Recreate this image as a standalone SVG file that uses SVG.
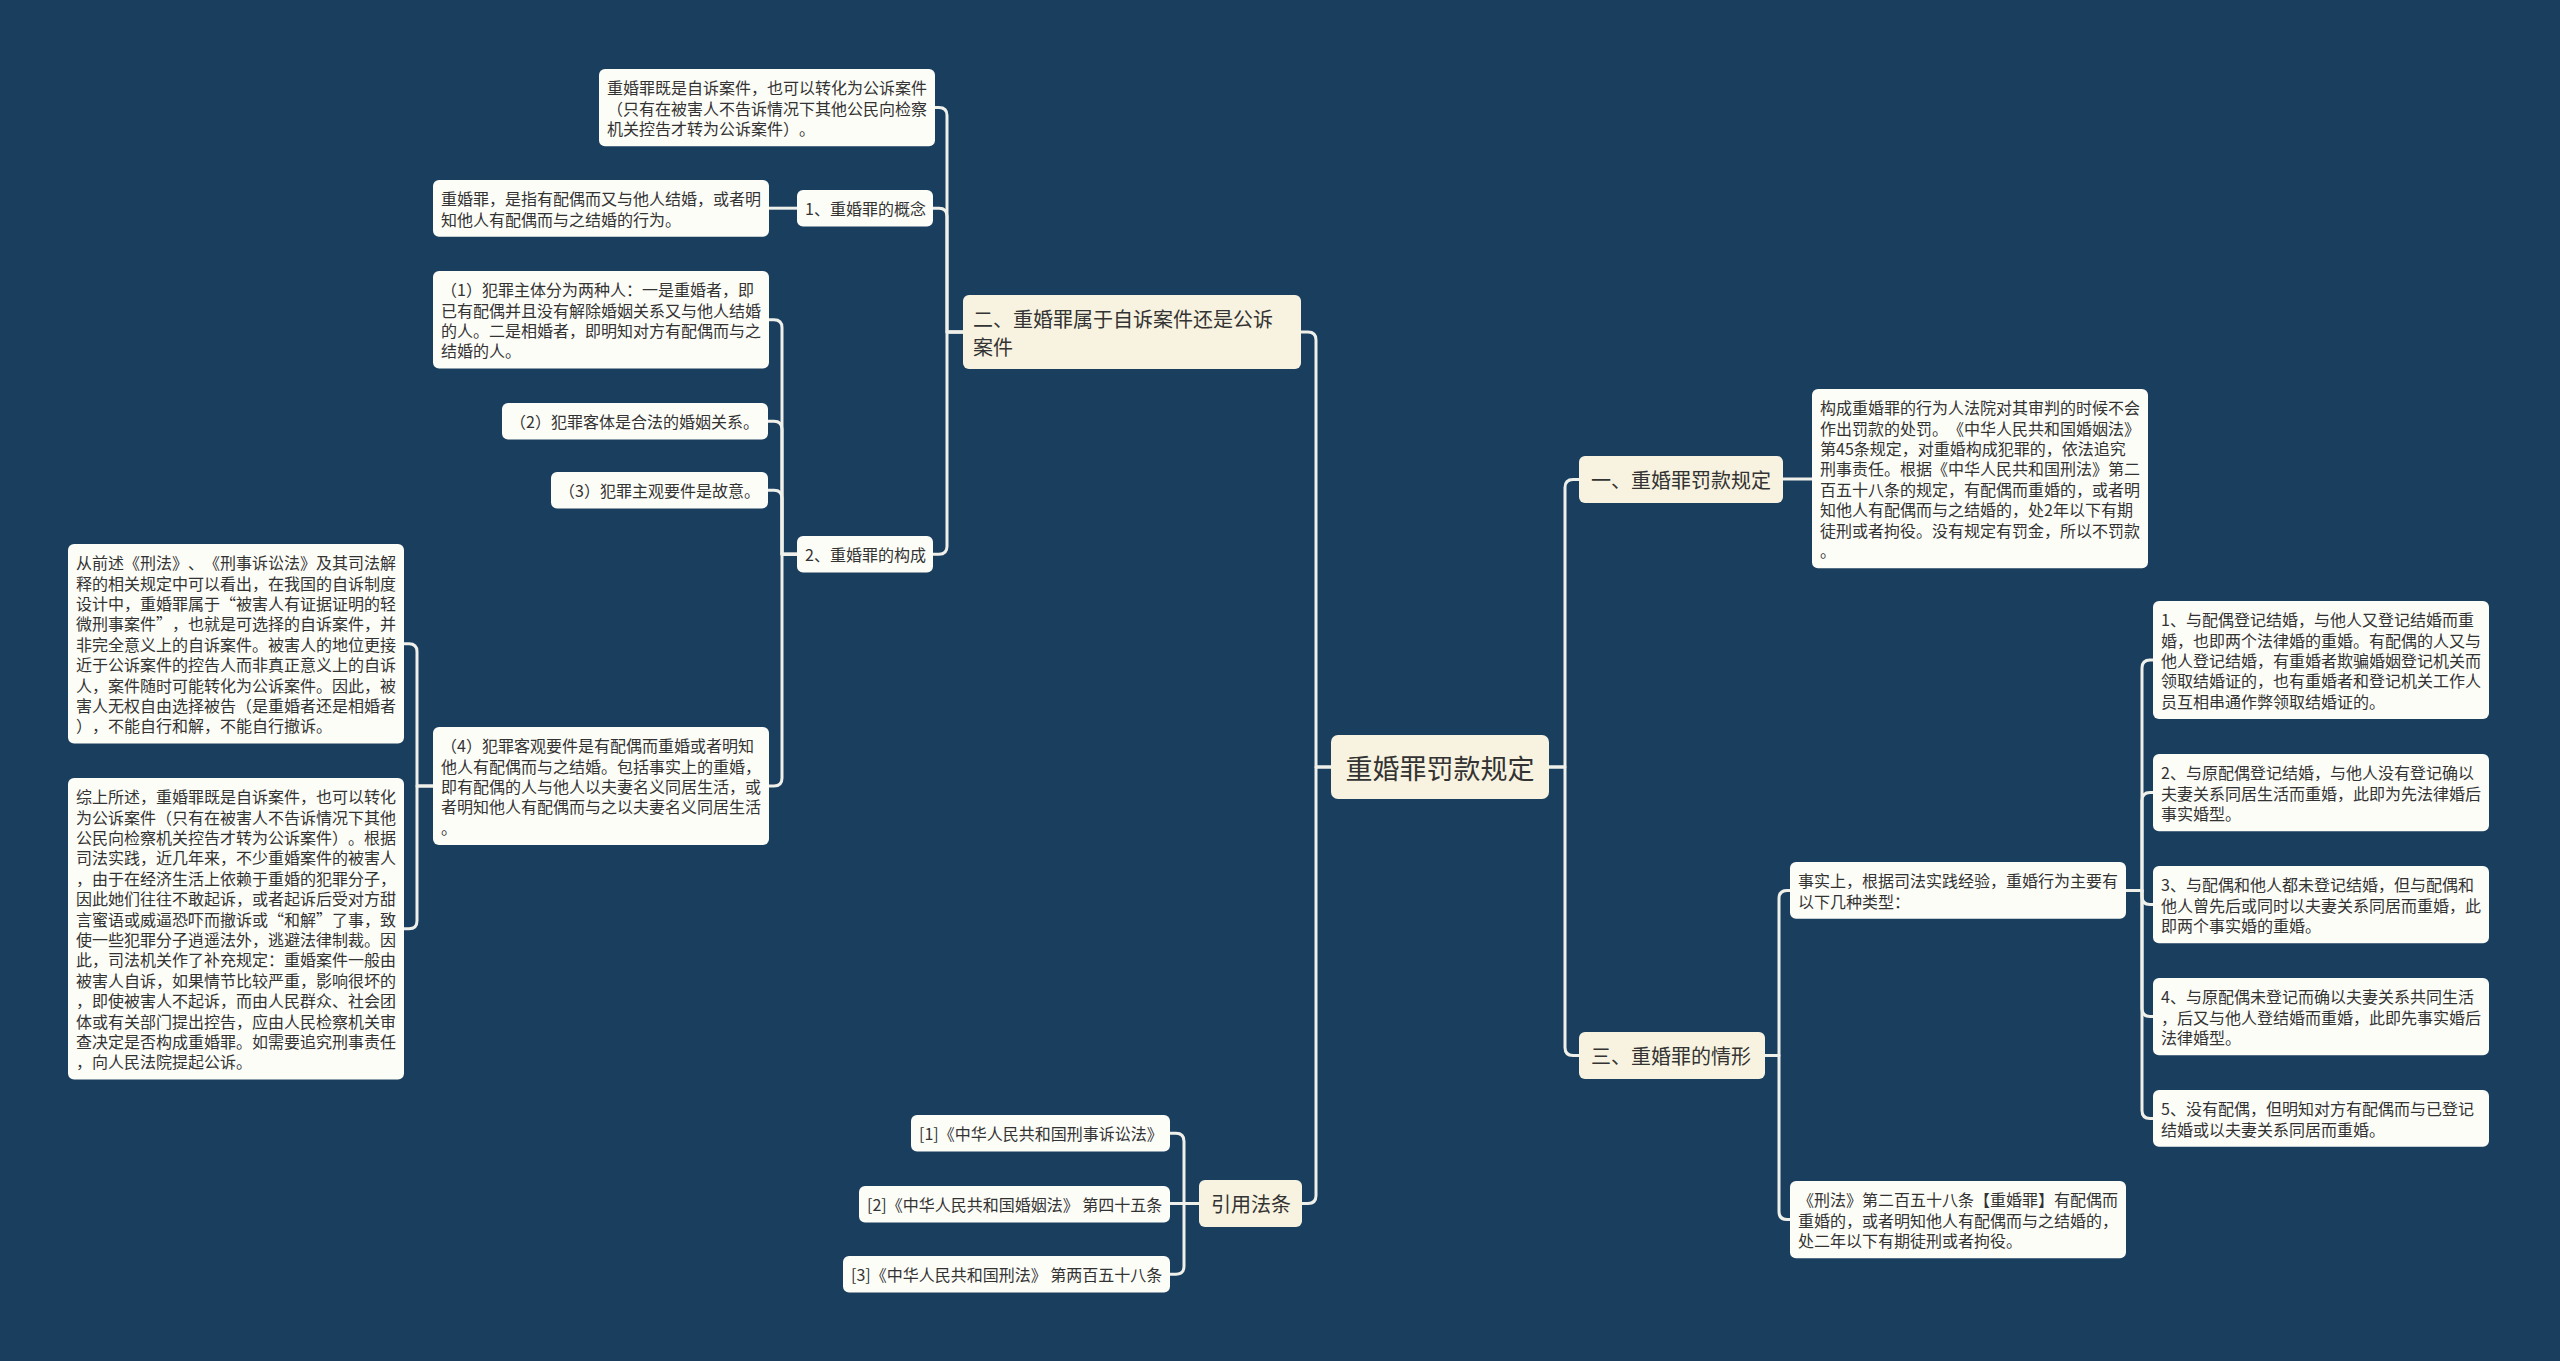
<svg xmlns="http://www.w3.org/2000/svg" width="2560" height="1361" viewBox="0 0 2560 1361">
<style>
.bg{fill:#1a3e5e}
.leaf{fill:#fdfdf8}
.main{fill:#f8f3e0}
text{font-family:"Noto Sans CJK SC","Noto Sans",sans-serif;fill:#333333;dominant-baseline:central;text-spacing-trim:space-all;font-kerning:none}
.t{font-size:16px}
.t1{font-size:20px}
.t0{font-size:27px}
.c{fill:none;stroke:#f0f0ea;stroke-width:3;stroke-linejoin:round}
</style>
<rect class="bg" x="0" y="0" width="2560" height="1361"/>
<g id="connectors">
<path class="c" d="M1331,767 H1316 V340 Q1316,332 1308,332 H1301"/>
<path class="c" d="M1331,767 H1316 V1195.5 Q1316,1203.5 1308,1203.5 H1302"/>
<path class="c" d="M1549,767 H1565 V487.5 Q1565,479.5 1573,479.5 H1579"/>
<path class="c" d="M1549,767 H1565 V1047.5 Q1565,1055.5 1573,1055.5 H1579"/>
<path class="c" d="M963,332 H947 V115.6 Q947,107.6 939,107.6 H935"/>
<path class="c" d="M963,332 H947 V216.2 Q947,208.2 939,208.2 H933"/>
<path class="c" d="M963,332 H947 V546.2 Q947,554.2 939,554.2 H933"/>
<path class="c" d="M797,208.2 H769"/>
<path class="c" d="M797,554.2 H782 V327.8 Q782,319.8 774,319.8 H769"/>
<path class="c" d="M797,554.2 H782 V429.2 Q782,421.2 774,421.2 H768"/>
<path class="c" d="M797,554.2 H782 V498.2 Q782,490.2 774,490.2 H768"/>
<path class="c" d="M797,554.2 H782 V778 Q782,786 774,786 H769"/>
<path class="c" d="M433,786 H417 V651.8 Q417,643.8 409,643.8 H404"/>
<path class="c" d="M433,786 H417 V920.8 Q417,928.8 409,928.8 H404"/>
<path class="c" d="M1199,1203.5 H1184 V1141.2 Q1184,1133.2 1176,1133.2 H1170"/>
<path class="c" d="M1199,1203.5 H1170"/>
<path class="c" d="M1199,1203.5 H1184 V1266.2 Q1184,1274.2 1176,1274.2 H1170"/>
<path class="c" d="M1783,479 H1812"/>
<path class="c" d="M1765,1055.5 H1779 V898.4 Q1779,890.4 1787,890.4 H1790"/>
<path class="c" d="M1765,1055.5 H1779 V1211.6 Q1779,1219.6 1787,1219.6 H1790"/>
<path class="c" d="M2126,890.4 H2142 V668 Q2142,660 2150,660 H2153"/>
<path class="c" d="M2126,890.4 H2142 V800.6 Q2142,792.6 2150,792.6 H2153"/>
<path class="c" d="M2126,890.4 H2142 V896.6 Q2142,904.6 2150,904.6 H2153"/>
<path class="c" d="M2126,890.4 H2142 V1008.6 Q2142,1016.6 2150,1016.6 H2153"/>
<path class="c" d="M2126,890.4 H2142 V1110.4 Q2142,1118.4 2150,1118.4 H2153"/>
</g>
<g id="root">
<rect class="main" x="1331" y="735" width="218" height="64" rx="7"/>
<text class="t0" x="1440" y="767" text-anchor="middle">重婚罪罚款规定</text>
</g>
<g id="n-two">
<rect class="main" x="963" y="295" width="338" height="74" rx="6"/>
<text class="t1" x="973" y="318">二、重婚罪属于自诉案件还是公诉</text>
<text class="t1" x="973" y="346">案件</text>
</g>
<g id="a1">
<rect class="leaf" x="599" y="69" width="336" height="77.2" rx="6"/>
<text class="t" x="607" y="87.2">重婚罪既是自诉案件，也可以转化为公诉案件</text>
<text class="t" x="607" y="107.6">（只有在被害人不告诉情况下其他公民向检察</text>
<text class="t" x="607" y="128">机关控告才转为公诉案件）。</text>
</g>
<g id="n1">
<rect class="leaf" x="797" y="190" width="136" height="36.4" rx="6"/>
<text class="t" x="805" y="208.2">1、重婚罪的概念</text>
</g>
<g id="a2">
<rect class="leaf" x="433" y="180" width="336" height="56.8" rx="6"/>
<text class="t" x="441" y="198.2">重婚罪，是指有配偶而又与他人结婚，或者明</text>
<text class="t" x="441" y="218.6">知他人有配偶而与之结婚的行为。</text>
</g>
<g id="n2">
<rect class="leaf" x="797" y="536" width="136" height="36.4" rx="6"/>
<text class="t" x="805" y="554.2">2、重婚罪的构成</text>
</g>
<g id="b1">
<rect class="leaf" x="433" y="271" width="336" height="97.6" rx="6"/>
<text class="t" x="441" y="289.2">（1）犯罪主体分为两种人：一是重婚者，即</text>
<text class="t" x="441" y="309.6">已有配偶并且没有解除婚姻关系又与他人结婚</text>
<text class="t" x="441" y="330">的人。二是相婚者，即明知对方有配偶而与之</text>
<text class="t" x="441" y="350.4">结婚的人。</text>
</g>
<g id="b2">
<rect class="leaf" x="502" y="403" width="266" height="36.4" rx="6"/>
<text class="t" x="510" y="421.2">（2）犯罪客体是合法的婚姻关系。</text>
</g>
<g id="b3">
<rect class="leaf" x="551" y="472" width="217" height="36.4" rx="6"/>
<text class="t" x="559" y="490.2">（3）犯罪主观要件是故意。</text>
</g>
<g id="b4">
<rect class="leaf" x="433" y="727" width="336" height="118" rx="6"/>
<text class="t" x="441" y="745.2">（4）犯罪客观要件是有配偶而重婚或者明知</text>
<text class="t" x="441" y="765.6">他人有配偶而与之结婚。包括事实上的重婚，</text>
<text class="t" x="441" y="786">即有配偶的人与他人以夫妻名义同居生活，或</text>
<text class="t" x="441" y="806.4">者明知他人有配偶而与之以夫妻名义同居生活</text>
<text class="t" x="441" y="826.8">。</text>
</g>
<g id="c1">
<rect class="leaf" x="68" y="544" width="336" height="199.6" rx="6"/>
<text class="t" x="76" y="562.2">从前述《刑法》、《刑事诉讼法》及其司法解</text>
<text class="t" x="76" y="582.6">释的相关规定中可以看出，在我国的自诉制度</text>
<text class="t" x="76" y="603">设计中，重婚罪属于“被害人有证据证明的轻</text>
<text class="t" x="76" y="623.4">微刑事案件”，也就是可选择的自诉案件，并</text>
<text class="t" x="76" y="643.8">非完全意义上的自诉案件。被害人的地位更接</text>
<text class="t" x="76" y="664.2">近于公诉案件的控告人而非真正意义上的自诉</text>
<text class="t" x="76" y="684.6">人，案件随时可能转化为公诉案件。因此，被</text>
<text class="t" x="76" y="705">害人无权自由选择被告（是重婚者还是相婚者</text>
<text class="t" x="76" y="725.4">），不能自行和解，不能自行撤诉。</text>
</g>
<g id="c2">
<rect class="leaf" x="68" y="778" width="336" height="301.6" rx="6"/>
<text class="t" x="76" y="796.2">综上所述，重婚罪既是自诉案件，也可以转化</text>
<text class="t" x="76" y="816.6">为公诉案件（只有在被害人不告诉情况下其他</text>
<text class="t" x="76" y="837">公民向检察机关控告才转为公诉案件）。根据</text>
<text class="t" x="76" y="857.4">司法实践，近几年来，不少重婚案件的被害人</text>
<text class="t" x="76" y="877.8">，由于在经济生活上依赖于重婚的犯罪分子，</text>
<text class="t" x="76" y="898.2">因此她们往往不敢起诉，或者起诉后受对方甜</text>
<text class="t" x="76" y="918.6">言蜜语或威逼恐吓而撤诉或“和解”了事，致</text>
<text class="t" x="76" y="939">使一些犯罪分子逍遥法外，逃避法律制裁。因</text>
<text class="t" x="76" y="959.4">此，司法机关作了补充规定：重婚案件一般由</text>
<text class="t" x="76" y="979.8">被害人自诉，如果情节比较严重，影响很坏的</text>
<text class="t" x="76" y="1000.2">，即使被害人不起诉，而由人民群众、社会团</text>
<text class="t" x="76" y="1020.6">体或有关部门提出控告，应由人民检察机关审</text>
<text class="t" x="76" y="1041">查决定是否构成重婚罪。如需要追究刑事责任</text>
<text class="t" x="76" y="1061.4">，向人民法院提起公诉。</text>
</g>
<g id="n-ref">
<rect class="main" x="1199" y="1180" width="103" height="47" rx="6"/>
<text class="t1" x="1211" y="1203.5">引用法条</text>
</g>
<g id="r1">
<rect class="leaf" x="911" y="1115" width="259" height="36.4" rx="6"/>
<text class="t" x="919" y="1133.2">[1]《中华人民共和国刑事诉讼法》</text>
</g>
<g id="r2">
<rect class="leaf" x="859" y="1186" width="311" height="36.4" rx="6"/>
<text class="t" x="867" y="1204.2">[2]《中华人民共和国婚姻法》 第四十五条</text>
</g>
<g id="r3">
<rect class="leaf" x="843" y="1256" width="327" height="36.4" rx="6"/>
<text class="t" x="851" y="1274.2">[3]《中华人民共和国刑法》 第两百五十八条</text>
</g>
<g id="n-one">
<rect class="main" x="1579" y="456" width="204" height="47" rx="6"/>
<text class="t1" x="1591" y="479.5">一、重婚罪罚款规定</text>
</g>
<g id="d1">
<rect class="leaf" x="1812" y="389" width="336" height="179.2" rx="6"/>
<text class="t" x="1820" y="407.2">构成重婚罪的行为人法院对其审判的时候不会</text>
<text class="t" x="1820" y="427.6">作出罚款的处罚。《中华人民共和国婚姻法》</text>
<text class="t" x="1820" y="448">第45条规定，对重婚构成犯罪的，依法追究</text>
<text class="t" x="1820" y="468.4">刑事责任。根据《中华人民共和国刑法》第二</text>
<text class="t" x="1820" y="488.8">百五十八条的规定，有配偶而重婚的，或者明</text>
<text class="t" x="1820" y="509.2">知他人有配偶而与之结婚的，处2年以下有期</text>
<text class="t" x="1820" y="529.6">徒刑或者拘役。没有规定有罚金，所以不罚款</text>
<text class="t" x="1820" y="550">。</text>
</g>
<g id="n-three">
<rect class="main" x="1579" y="1032" width="186" height="47" rx="6"/>
<text class="t1" x="1591" y="1055.5">三、重婚罪的情形</text>
</g>
<g id="e1">
<rect class="leaf" x="1790" y="862" width="336" height="56.8" rx="6"/>
<text class="t" x="1798" y="880.2">事实上，根据司法实践经验，重婚行为主要有</text>
<text class="t" x="1798" y="900.6">以下几种类型：</text>
</g>
<g id="e2">
<rect class="leaf" x="1790" y="1181" width="336" height="77.2" rx="6"/>
<text class="t" x="1798" y="1199.2">《刑法》第二百五十八条【重婚罪】有配偶而</text>
<text class="t" x="1798" y="1219.6">重婚的，或者明知他人有配偶而与之结婚的，</text>
<text class="t" x="1798" y="1240">处二年以下有期徒刑或者拘役。</text>
</g>
<g id="f1">
<rect class="leaf" x="2153" y="601" width="336" height="118" rx="6"/>
<text class="t" x="2161" y="619.2">1、与配偶登记结婚，与他人又登记结婚而重</text>
<text class="t" x="2161" y="639.6">婚，也即两个法律婚的重婚。有配偶的人又与</text>
<text class="t" x="2161" y="660">他人登记结婚，有重婚者欺骗婚姻登记机关而</text>
<text class="t" x="2161" y="680.4">领取结婚证的，也有重婚者和登记机关工作人</text>
<text class="t" x="2161" y="700.8">员互相串通作弊领取结婚证的。</text>
</g>
<g id="f2">
<rect class="leaf" x="2153" y="754" width="336" height="77.2" rx="6"/>
<text class="t" x="2161" y="772.2">2、与原配偶登记结婚，与他人没有登记确以</text>
<text class="t" x="2161" y="792.6">夫妻关系同居生活而重婚，此即为先法律婚后</text>
<text class="t" x="2161" y="813">事实婚型。</text>
</g>
<g id="f3">
<rect class="leaf" x="2153" y="866" width="336" height="77.2" rx="6"/>
<text class="t" x="2161" y="884.2">3、与配偶和他人都未登记结婚，但与配偶和</text>
<text class="t" x="2161" y="904.6">他人曾先后或同时以夫妻关系同居而重婚，此</text>
<text class="t" x="2161" y="925">即两个事实婚的重婚。</text>
</g>
<g id="f4">
<rect class="leaf" x="2153" y="978" width="336" height="77.2" rx="6"/>
<text class="t" x="2161" y="996.2">4、与原配偶未登记而确以夫妻关系共同生活</text>
<text class="t" x="2161" y="1016.6">，后又与他人登结婚而重婚，此即先事实婚后</text>
<text class="t" x="2161" y="1037">法律婚型。</text>
</g>
<g id="f5">
<rect class="leaf" x="2153" y="1090" width="336" height="56.8" rx="6"/>
<text class="t" x="2161" y="1108.2">5、没有配偶，但明知对方有配偶而与已登记</text>
<text class="t" x="2161" y="1128.6">结婚或以夫妻关系同居而重婚。</text>
</g>
</svg>
